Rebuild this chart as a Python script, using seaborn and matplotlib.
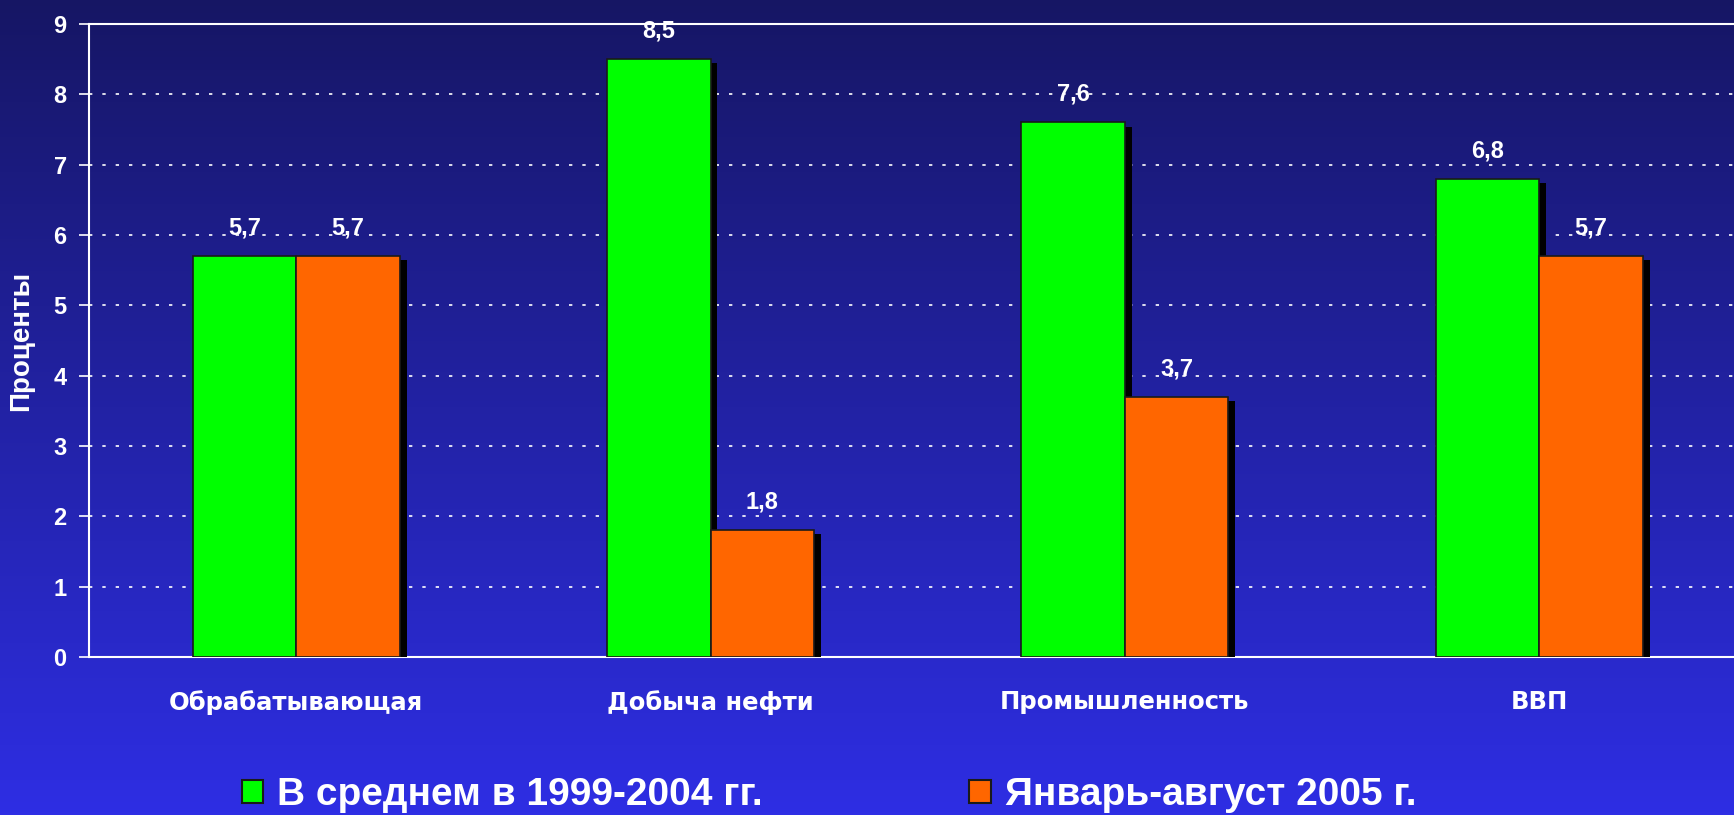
import numpy as np
import pandas as pd
import matplotlib
matplotlib.use('Agg')
import matplotlib.pyplot as plt
import matplotlib.patheffects as pe
import seaborn as sns

# Data
categories = ['Обрабатывающая', 'Добыча нефти', 'Промышленность', 'ВВП']
series_names = ['В среднем в 1999-2004 гг.', 'Январь-август 2005 г.']
avg_1999_2004 = [5.7, 8.5, 7.6, 6.8]
jan_aug_2005 = [5.7, 1.8, 3.7, 5.7]
y_ticks = [0, 1, 2, 3, 4, 5, 6, 7, 8, 9]

df = pd.DataFrame({
    'category': categories * 2,
    'series': [series_names[0]] * 4 + [series_names[1]] * 4,
    'value': avg_1999_2004 + jan_aug_2005,
})

sns.set_style('ticks')
plt.rcParams['font.family'] = ['Liberation Sans', 'DejaVu Sans']

fig = plt.figure(figsize=(17.34, 8.15), dpi=100)

# Gradient background (dark navy -> bright blue)
bg = fig.add_axes([0, 0, 1, 1], zorder=-1)
top = np.array([22, 22, 100]) / 255
bottom = np.array([46, 46, 228]) / 255
t = np.linspace(0, 1, 256)[:, None]
grad = top[None, :] * (1 - t) + bottom[None, :] * t
bg.imshow(grad[:, None, :], aspect='auto', extent=[0, 1, 0, 1])
bg.set_axis_off()

ax = fig.add_axes([0.0513, 0.194, 0.9487, 0.7766])
ax.set_facecolor('none')

sns.barplot(data=df, x='category', y='value', hue='series',
            palette=['#00ff00', '#ff6600'], width=0.5, gap=0,
            edgecolor='#1a1a1a', linewidth=1.2, saturation=1,
            legend=True, ax=ax, zorder=3)

# drop shadow on bars
for bar in ax.patches:
    bar.set_path_effects([pe.SimplePatchShadow(offset=(5, -3), shadow_rgbFace='black', alpha=1.0), pe.Normal()])

for cont in ax.containers:
    labels = [f'{v:.1f}'.replace('.', ',') for v in cont.datavalues]
    ax.bar_label(cont, labels=labels, padding=12, color='white',
                 fontsize=17, fontweight='bold')

ax.set_ylim(0, 9)
ax.set_xlim(-0.5, 3.47)
ax.set_yticks(y_ticks)
ax.yaxis.grid(True, linestyle=(0, (2, 6)), color='white', linewidth=1.2)
ax.set_axisbelow(True)

for side in ['top', 'bottom', 'left']:
    ax.spines[side].set_color('white')
    ax.spines[side].set_linewidth(1.5)
ax.spines['right'].set_visible(False)

ax.tick_params(axis='y', colors='white', length=7, width=1.2, labelsize=17, pad=9)
ax.tick_params(axis='x', colors='white', length=0, pad=24)
for lbl in ax.get_yticklabels():
    lbl.set_fontweight('bold')
for lbl in ax.get_xticklabels():
    lbl.set_fontfamily('DejaVu Sans')
    lbl.set_fontweight('bold')
    lbl.set_fontsize(17.5)

ax.set_xlabel('')
ax.set_ylabel('Проценты', color='white', fontsize=20, fontweight='bold', labelpad=14)

handles, labels = ax.get_legend_handles_labels()
ax.get_legend().remove()
leg = fig.legend(handles, labels, ncol=2, loc='center left', bbox_to_anchor=(242 / 1734, 0.024),
                 frameon=False, borderpad=0, borderaxespad=0, handlelength=0.55, handleheight=0.55,
                 handletextpad=0.36, columnspacing=5.3, prop={'weight': 'bold', 'size': 28})
for txt in leg.get_texts():
    txt.set_color('white')
for h in leg.legend_handles:
    h.set_edgecolor('#1a1a1a')
    h.set_linewidth(1.5)
    h.set_path_effects([])

fig.savefig('out.png', dpi=100)
